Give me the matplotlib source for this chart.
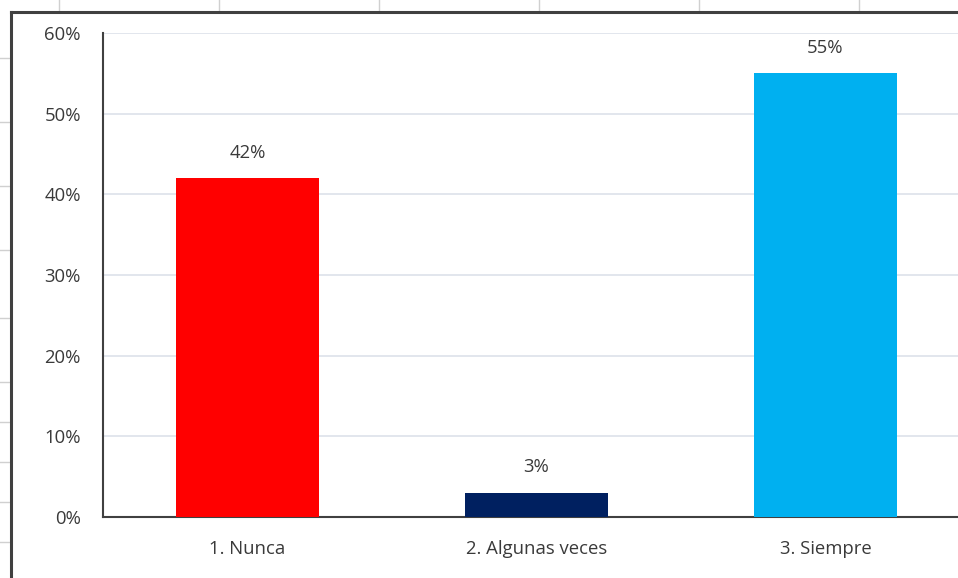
import matplotlib
matplotlib.use("Agg")
import matplotlib.pyplot as plt
from matplotlib.lines import Line2D
from matplotlib.ticker import FuncFormatter

# ── data ──────────────────────────────────────────────────────────────────────
categories = ["1. Nunca", "2. Algunas veces", "3. Siempre"]
shares     = [0.42, 0.03, 0.55]
bar_colors = ["#FF0000", "#002060", "#00B0F0"]
y_ticks    = [0.0, 0.1, 0.2, 0.3, 0.4, 0.5, 0.6]

# worksheet cell borders peeking out around the chart object (pixels)
sheet_cols = [59, 219, 379, 539, 699, 859]
sheet_rows = [58, 122, 186, 250, 318, 382, 422, 462, 502, 542]

W, H = 958, 578
TEXT = "#3A3A3A"
FS = 13.3

plt.rcParams["font.family"] = ["Open Sans", "DejaVu Sans"]

fig = plt.figure(figsize=(W / 100, H / 100), dpi=100)

# plot area: left spine at x=103, 0% at y=517, 60% at y=33, runs past right edge
left, right, top, bottom = 103, 970, 33, 517
ax = fig.add_axes([left / W, 1 - bottom / H, (right - left) / W, (bottom - top) / H])

x = range(len(categories))
ax.bar(x, shares, width=0.495, color=bar_colors, zorder=3)

for xi, v in zip(x, shares):
    ax.annotate(f"{v:.0%}", xy=(xi, v), xytext=(0, 12), textcoords="offset points",
                ha="center", va="bottom", fontsize=FS, color=TEXT)

ax.set_xlim(-0.5, 2.5)
ax.set_ylim(0, 0.6)
ax.set_yticks(y_ticks)
ax.yaxis.set_major_formatter(FuncFormatter(lambda v, _: f"{v:.0%}"))
ax.set_xticks(list(x))
ax.set_xticklabels(categories)
ax.tick_params(axis="both", length=0, labelsize=FS, labelcolor=TEXT)
ax.tick_params(axis="y", pad=16)
ax.tick_params(axis="x", pad=16.5)

ax.grid(axis="y", color="#DDE1EA", linewidth=1.2, zorder=0)
ax.set_axisbelow(True)
for side in ("top", "right"):
    ax.spines[side].set_visible(False)
for side in ("left", "bottom"):
    ax.spines[side].set_color("#404040")
    ax.spines[side].set_linewidth(1.5)

# worksheet grid stubs and the chart object's outer frame, in pixel coords
def px_line(xs, ys, **kw):
    fig.add_artist(Line2D([v / W for v in xs], [1 - v / H for v in ys],
                          transform=fig.transFigure, **kw))

for cx in sheet_cols:
    px_line([cx, cx], [0, 11], color="#D0D0D0", linewidth=1)
for ry in sheet_rows:
    px_line([0, 10], [ry, ry], color="#D0D0D0", linewidth=1)

px_line([11, 11], [H + 5, 12], color="#404040", linewidth=2.2, solid_capstyle="projecting")
px_line([11, W + 5], [12, 12], color="#404040", linewidth=2.2, solid_capstyle="projecting")

fig.savefig("out.png", dpi=100)
